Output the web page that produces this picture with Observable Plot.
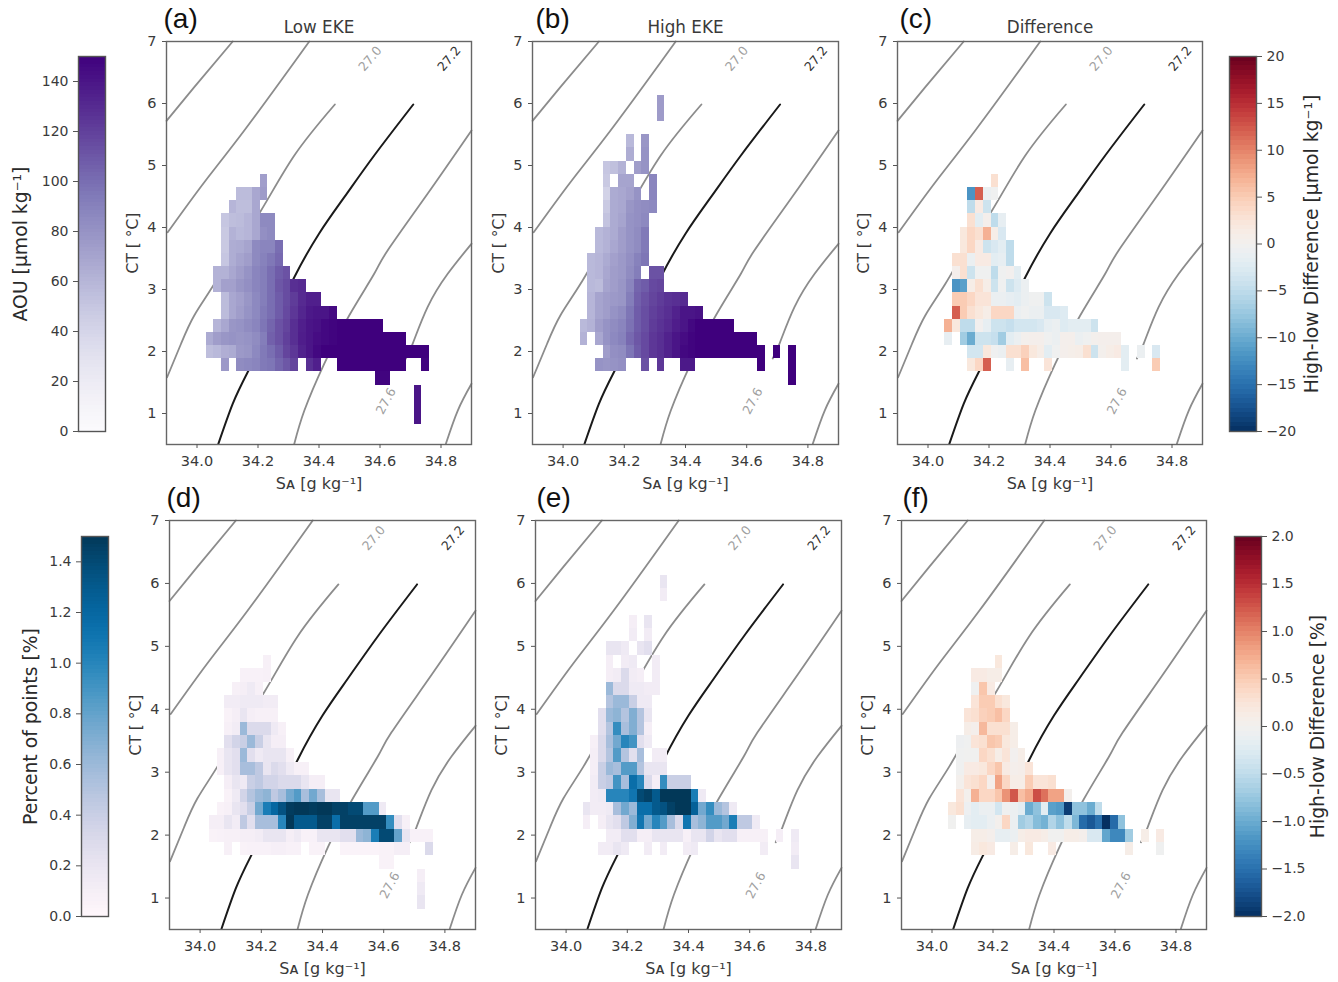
<!DOCTYPE html>
<html><head><meta charset="utf-8">
<script src="https://cdn.jsdelivr.net/npm/d3@7"></script>
<script src="https://cdn.jsdelivr.net/npm/@observablehq/plot@0.6"></script>
<style>
html,body{margin:0;padding:0;background:#fff}
#page{position:relative;width:1338px;height:982px;overflow:hidden;background:#fff}
#page svg{position:absolute;background:none;overflow:visible}
</style></head><body><div id="page"></div>
<script>
// Bin grid of the T-S diagram: [row, first column, values...]
const saStart = 34.03, saStep = 0.02525, ctStart = 1.67, ctStep = 0.2125;

const aouLow = [
 [14,7,73],
 [13,4,56,56,68,75],
 [12,3,60,55,55,68],
 [11,2,50,55,56,60,68,85,85],
 [10,2,48,62,58,60,68,82,85],
 [9,2,48,65,66,70,85,88,88,100],
 [8,2,50,65,70,74,85,90,95,102],
 [7,1,62,62,68,74,80,88,92,100,108,112],
 [6,1,62,72,72,78,82,88,92,100,110,115,128,130],
 [5,2,56,68,72,78,86,92,100,108,115,122,130,135,135],
 [4,2,56,68,74,80,86,94,100,108,116,124,132,138,140,140,145],
 [3,1,60,68,78,80,84,88,96,104,112,118,128,135,140,142,146,148,150,150,150,150,150,150],
 [2,0,66,74,78,80,78,80,84,92,106,112,120,128,136,140,144,146,148,150,150,150,150,150,150,150,150,150],
 [1,0,55,58,64,66,76,78,86,94,100,108,118,124,134,140,146,150,150,150,150,150,150,150,150,150,150,150,150,150,150],
 [0,2,76],[0,4,84,86,88,94,96,104,110,118],[0,13,128,135],[0,17,150,150,150,150,150,150,150,150,150],[0,28,148],
 [-1,22,148,148],
 [-2,27,140],[-3,27,140],[-4,27,140]
];
const aouHigh = [
 [20,11,75],[19,11,75],
 [17,7,58],[17,9,78],[16,7,65],[16,9,80],
 [15,4,50,54,62],[15,8,74,80],
 [14,4,48],[14,6,70,70],[14,10,88],
 [13,4,42,66,68,72,80],[13,10,88],
 [12,4,48,66,68,78,82,84,86],
 [11,4,52,66,70,80,82,86],
 [10,3,58,62,66,74,80,84,94],
 [9,3,58,62,68,74,80,84,94],
 [8,2,58,60,66,72,76,82,90,96],
 [7,2,58,60,68,74,76,84,92],[7,10,112,112],
 [6,2,58,56,70,74,78,88,104,108,116,118],
 [5,2,60,70,74,76,78,92,106,112,118,122,126,128,130],
 [4,2,60,70,74,80,84,96,108,114,120,124,128,134,140,140,142],
 [3,1,58,62,74,80,84,88,98,108,114,122,126,130,136,140,146,150,150,150,150,150],
 [2,1,62],[2,3,68,80,86,90,102,110,116,124,128,134,140,144,148,150,150,150,150,150,150,150,150],
 [1,4,74,82,84,96,108,116,124,128,134,140,146,148,150,150,150,150,150,150,150,150,150],[1,26,150],[1,28,150],
 [0,3,80,78,80,82],[0,9,112],[0,11,124],[0,14,138,138],[0,24,150],[0,28,150],
 [-1,28,150]
];
const aouDiff = [
 [14,7,3],
 [13,4,-12,12,-1,-0.5],
 [12,4,-5,1.5,-4],
 [11,4,3,-2,0.5,-5,-1.5],
 [10,3,2,4,3,7,1,-3],
 [9,3,2,4,1.5,-4,-3,-2,-5],
 [8,2,3,3,-1,1.5,1.5,-2,-1.5,-5],
 [7,2,0.5,3,-4,-0.5,-0.5,-5,-0.5,0,-2],
 [6,2,-12,-11,1,3,1,-4,-0.5,-4,-2.5,-1],
 [5,2,5,5,4,2.5,2.5,-1,-1,-1.5,-2,-1,-0.5,-0.5,-4],
 [4,2,12,5,3,2,1,4,4,4,-1,-0.5,-1,-1,-3,-3,-2.5],
 [3,1,7,2,-5,-5,0,-1.5,-4,-4,-4.5,-3.5,-3.5,-3.5,-3,-1.5,-1,-2.5,-2,-2,-2,-4],
 [2,1,-1.5],[2,3,-7,-10,-4,-4,-4.5,-7,-2,-1,0.3,0.5,0.5,-0.5,-1,0.5,0.5,-1,-0.5,0.3,0.5,0.5,0.5],
 [1,4,-3.5,-3.5,2,-0.5,-1,3,3,4.5,2,1,-2,-0.5,0.5,0.7,1,3,-4,0.3,1,1.5,-2],[1,26,-1],[1,28,-3],
 [0,4,2,4,12],[0,9,-1.5],[0,11,6],[0,14,2.5],[0,24,-2],[0,28,5]
];
const pctLow = [
 [14,7,0.08],
 [13,4,0.07,0.07,0.07,0.08],
 [12,3,0.08,0.1,0.15,0.08],
 [11,2,0.12,0.12,0.15,0.15,0.15,0.12,0.12],
 [10,2,0.06,0.1,0.2,0.1,0.08,0.08,0.08],
 [9,2,0.08,0.12,0.6,0.3,0.3,0.3,0.15,0.08],
 [8,2,0.25,0.35,0.4,0.6,0.4,0.2,0.1,0.1],
 [7,1,0.08,0.2,0.25,0.6,0.25,0.15,0.2,0.2,0.2,0.08],
 [6,1,0.08,0.2,0.25,0.55,0.55,0.45,0.2,0.3,0.25,0.15,0.08,0.08],
 [5,2,0.1,0.2,0.15,0.4,0.45,0.35,0.35,0.3,0.3,0.3,0.2,0.1,0.1],
 [4,2,0.06,0.15,0.35,0.5,0.6,0.65,0.45,0.55,0.75,0.85,0.55,0.75,0.55,0.2,0.2],
 [3,1,0.06,0.08,0.2,0.25,0.4,0.75,1.05,1.2,1.35,1.48,1.5,1.5,1.48,1.5,1.5,1.45,1.45,1.4,1.4,0.85,0.85,0.15],
 [2,0,0.1,0.1,0.2,0.12,0.45,0.25,0.55,0.55,0.55,1,1.5,1.3,1.3,1.3,1.45,1.45,1.15,1.45,1.45,1.45,1.45,1.45,1.45,0.95,0.25,0.08],
 [1,0,0.06,0.07,0.08,0.08,0.1,0.1,0.12,0.2,0.2,0.2,0.1,0.15,0.07,0.07,0.2,0.2,0.2,0.25,0.25,0.6,0.65,1.05,1.4,1.4,0.8,0.2,0.07,0.07,0.07],
 [0,2,0.08],[0,4,0.06,0.07,0.07,0.07,0.09,0.09,0.07,0.07],[0,13,0.06,0.06],[0,17,0.05,0.05,0.05,0.05,0.05,0.06,0.06,0.1,0.1],[0,28,0.3],
 [-1,22,0.06,0.06],
 [-2,27,0.1],[-3,27,0.15],[-4,27,0.2]
];
const pctHigh = [
 [20,11,0.2],[19,11,0.12],
 [17,7,0.1],[17,9,0.2],[16,7,0.12],[16,9,0.12],
 [15,4,0.2,0.2,0.15],[15,8,0.2,0.25],
 [14,4,0.1],[14,6,0.12,0.15],[14,10,0.12],
 [13,4,0.1,0.12,0.3,0.12,0.1],[13,10,0.12],
 [12,4,0.6,0.3,0.3,0.15,0.15,0.12,0.12],
 [11,4,0.5,0.6,0.6,0.4,0.15,0.15],
 [10,3,0.25,0.6,0.65,0.5,0.7,0.5,0.2],
 [9,3,0.25,0.5,0.95,0.55,0.7,0.5,0.1],
 [8,2,0.08,0.3,0.55,0.75,1,0.9,0.25,0.15],
 [7,2,0.1,0.3,0.5,0.85,0.5,0.25,0.55],[7,10,0.12,0.12],
 [6,2,0.1,0.4,0.6,0.55,0.85,0.85,0.5,0.2,0.2,0.2],
 [5,2,0.12,0.4,0.45,0.9,0.55,1.15,1,0.3,0.1,0.95,0.4,0.4,0.4],
 [4,2,0.12,0.15,1,1,1,1.1,1.4,1.45,1.3,1.5,1.5,1.5,1.5,1.05,0.15],
 [3,1,0.2,0.12,0.12,0.15,0.55,0.75,0.6,1.15,1.15,1.3,1.35,1.45,1.5,1.5,1.25,0.75,0.95,0.6,0.5,0.15],
 [2,1,0.1],[2,3,0.1,0.2,0.25,0.45,0.7,1.1,0.75,1,0.85,0.55,0.3,1.1,0.55,0.65,0.85,0.85,0.75,1.05,0.45,0.45,0.15],
 [1,4,0.12,0.12,0.25,0.25,0.1,0.1,0.2,0.2,0.2,0.2,0.08,0.2,0.2,0.35,0.2,0.25,0.25,0.08,0.08,0.08,0.08],[1,26,0.1],[1,28,0.15],
 [0,3,0.12,0.12,0.2,0.15],[0,9,0.12],[0,11,0.12],[0,14,0.12,0.15],[0,24,0.12],[0,28,0.12],
 [-1,28,0.2]
];
const pctDiff = [
 [14,7,0.2],
 [13,4,0.15,0.15,0.1,0.1],
 [12,4,-0.05,0.55,0.15],
 [11,4,0.25,0.5,0.5,0.3,0.2],
 [10,3,0.25,0.3,0.45,0.5,0.6,0.4],
 [9,3,0.1,0.05,0.65,0.3,0.3,0.3,0.1],
 [8,2,-0.08,-0.05,0.25,0.3,0.55,0.5,0.2,0.1],
 [7,2,-0.05,-0.03,-0.03,0.4,0.3,0.1,0.25,0,0.1],
 [6,2,-0.05,0.15,0.15,0.2,0.4,0.55,0.15,0.05,0.08,0.25],
 [5,2,0.03,0.25,0.3,0.4,0.05,0.8,0.4,0.1,0.1,0.5,0.25,0.25,0.3],
 [4,2,0.25,0.03,0.7,0.4,0.4,0.55,0.9,1.25,0.6,0.75,1.3,1.1,0.8,0.8,0.03],
 [3,1,0.2,0.3,-0.08,-0.2,-0.1,-0.1,-0.35,-0.05,-0.1,-0.2,-1,-0.8,-0.2,-1.1,-1.15,-1.9,-0.8,-0.8,-1,-0.5],
 [2,1,-0.03],[2,3,-0.15,-0.2,-0.2,-0.1,0.03,0.4,-0.1,-0.7,-0.6,-0.85,-0.95,-0.6,-0.8,-0.5,-0.9,-1.55,-1.7,-1.5,-2,-1.55,-0.8],
 [1,4,0.1,0.1,0.05,-0.15,-0.15,-0.1,0.1,0.15,0.15,0.1,-0.03,-0.03,0.1,0.1,0.05,-0.3,-0.3,-1.05,-1.3,-1.3,-0.7],[1,26,0.1],[1,28,0.15],
 [0,4,0.12,0.2,0.15],[0,9,0.1],[0,11,0.2],[0,14,0.15],[0,24,0.1],[0,28,-0.05]
];

// Isopycnals: [SA, CT]
const iso1 = [[33.9,5.72],[33.991,6.263],[34.117,7]];
const iso2 = [[33.904,3.924],[34.024,4.731],[34.155,5.565],[34.319,6.666],[34.368,7]];
const iso3 = [[33.902,1.585],[33.948,2.129],[33.991,2.581],[34.057,3.092],[34.128,3.677],[34.21,4.274],[34.319,5.161],[34.452,5.984]];
const iso4 = [[34.07,0.511],[34.117,1.156],[34.166,1.666],[34.243,2.42],[34.319,3.198],[34.40,3.90],[34.483,4.489],[34.581,5.161],[34.709,5.984]];
const iso5 = [[34.319,0.511],[34.352,1.048],[34.417,1.802],[34.499,2.581],[34.581,3.253],[34.625,3.629],[34.756,4.544],[34.9,5.565]];
const iso6 = [[34.685,1.887],[34.707,2.124],[34.756,2.715],[34.822,3.253],[34.9,3.737]];
const iso7 = [[34.816,0.511],[34.855,1.048],[34.9,1.479]];
const grayIso = [iso1,iso2,iso3,iso5,iso6,iso7];
const isoLabels = [
 {sa:34.568,ct:6.72,text:"27.0",fill:"#a0a0a0",rotate:-50},
 {sa:34.827,ct:6.72,text:"27.2",fill:"#333",rotate:-50},
 {sa:34.62,ct:1.2,text:"27.6",fill:"#a0a0a0",rotate:-62}
];

const saTicks = [34.0,34.2,34.4,34.6,34.8];
const ctTicks = [1,2,3,4,5,6,7];
const FONT = "DejaVu Sans, sans-serif";
const INK = "#3a3a3a";
const page = document.getElementById("page");

function toCells(rows){
  const out = [];
  for (const [k, col, ...vals] of rows) vals.forEach((v,i)=>out.push({
    sa1: saStart+(col+i)*saStep, sa2: saStart+(col+i+1)*saStep,
    ct1: ctStart+k*ctStep, ct2: ctStart+(k+1)*ctStep, v}));
  return out;
}
function place(svg,left,top){ svg.style.left=left+"px"; svg.style.top=top+"px"; page.appendChild(svg); }

function panel({L,R,T,B,rows,color,letter,title,letterDx}){
  const mL=60,mR=15,mT=40,mB=60;
  const svg = Plot.plot({
    width:R-L+mL+mR, height:B-T+mT+mB, marginLeft:mL, marginRight:mR, marginTop:mT, marginBottom:mB,
    style:{fontFamily:FONT,fontSize:"14px",color:INK,background:"none",overflow:"visible"},
    x:{domain:[33.9,34.9]}, y:{domain:[0.5,7]}, color,
    marks:[
      ...grayIso.map(l=>Plot.line(l,{x:d=>d[0],y:d=>d[1],stroke:"#8c8c8c",strokeWidth:1.8,curve:"natural"})),
      Plot.line(iso4,{x:d=>d[0],y:d=>d[1],stroke:"#1a1a1a",strokeWidth:2,curve:"natural"}),
      Plot.rect(toCells(rows),{x1:"sa1",x2:"sa2",y1:"ct1",y2:"ct2",fill:"v",shapeRendering:"crispEdges"}),
      Plot.text(isoLabels,{x:"sa",y:"ct",text:"text",fill:"fill",rotate:"rotate",fontSize:12.5}),
      Plot.frame({stroke:"#666",strokeWidth:1.4}),
      Plot.axisX({ticks:saTicks,tickFormat:".1f",tickSize:4,tickPadding:7,fontSize:14.5,stroke:"#555",fill:INK,label:null}),
      Plot.axisX({ticks:[],label:"Sᴀ [g kg⁻¹]",labelAnchor:"center",labelArrow:"none",labelOffset:44,fontSize:16,fill:INK}),
      Plot.axisY({ticks:ctTicks,tickFormat:"d",tickSize:4,tickPadding:6,fontSize:14.5,stroke:"#555",fill:INK,label:null}),
      Plot.axisY({ticks:[],label:"CT [ °C]",labelAnchor:"center",labelArrow:"none",labelOffset:40,fontSize:15.5,fill:INK}),
      ...(title?[Plot.text([title],{frameAnchor:"top",dy:-20,fontSize:16.8,fill:INK})]:[]),
      Plot.text([letter],{frameAnchor:"top-left",dx:letterDx,dy:-33,fontSize:28,fontFamily:"Liberation Sans, Arial, sans-serif",fill:"#111",textAnchor:"start"})
    ]
  });
  place(svg,L-mL,T-mT);
}

function colorbar({L,R,T,B,domain,ticks,fmt,color,label,anchor,labelOffset,ramp}){
  const mL=anchor==="left"?80:10, mR=anchor==="right"?90:10, mT=12, mB=12;
  const step=(domain[1]-domain[0])/ramp.length;
  const svg = Plot.plot({
    width:R-L+mL+mR, height:B-T+mT+mB, marginLeft:mL, marginRight:mR, marginTop:mT, marginBottom:mB,
    style:{fontFamily:FONT,fontSize:"14px",color:INK,background:"none",overflow:"visible"},
    x:{domain:[0,1],axis:null}, y:{domain}, color,
    marks:[
      Plot.rect(ramp,{x1:0,x2:1,y1:d=>d,y2:d=>d+step,fill:d=>d+step/2,shapeRendering:"crispEdges"}),
      Plot.frame({stroke:"#555",strokeWidth:1.4}),
      Plot.axisY({anchor,ticks,tickFormat:fmt,tickSize:5,tickPadding:5,fontSize:14,stroke:"#555",fill:INK,label:null}),
      Plot.axisY({anchor,ticks:[],label,labelAnchor:"center",labelArrow:"none",labelOffset,fontSize:18.8,fill:"#2a2a2a"})
    ]
  });
  place(svg,L-mL,T-mT);
}

const cAOU = {type:"linear",scheme:"Purples",domain:[0,150],clamp:true};
const cPct = {type:"linear",scheme:"PuBu",domain:[0,1.5],clamp:true};
const cDif = {type:"linear",scheme:"RdBu",reverse:true,domain:[-20,20],clamp:true};
const cDfp = {type:"linear",scheme:"RdBu",reverse:true,domain:[-2,2],clamp:true};

panel({L:166,R:471,T:41,B:444,rows:aouLow,color:cAOU,letter:"(a)",title:"Low EKE",letterDx:-3});
panel({L:532,R:838,T:41,B:444,rows:aouHigh,color:cAOU,letter:"(b)",title:"High EKE",letterDx:3});
panel({L:897,R:1202,T:41,B:444,rows:aouDiff,color:cDif,letter:"(c)",title:"Difference",letterDx:2});
panel({L:169,R:475,T:520,B:929,rows:pctLow,color:cPct,letter:"(d)",letterDx:-3});
panel({L:535,R:841,T:520,B:929,rows:pctHigh,color:cPct,letter:"(e)",letterDx:1});
panel({L:901,R:1206,T:520,B:929,rows:pctDiff,color:cDfp,letter:"(f)",letterDx:1});

colorbar({L:78,R:105,T:56,B:431,domain:[0,150],ticks:d3.range(0,141,20),fmt:"d",color:cAOU,
  label:"AOU [μmol kg⁻¹]",anchor:"left",labelOffset:65,ramp:d3.range(0,150,1.5)});
colorbar({L:81,R:108,T:536,B:916,domain:[0,1.5],ticks:[0,0.2,0.4,0.6,0.8,1,1.2,1.4],fmt:".1f",color:cPct,
  label:"Percent of points [%]",anchor:"left",labelOffset:58,ramp:d3.range(0,150,1.5).map(d=>d/100)});
colorbar({L:1229,R:1256,T:56,B:431,domain:[-20,20],ticks:d3.range(-20,21,5),fmt:"d",color:cDif,
  label:"High-low Difference [μmol kg⁻¹]",anchor:"right",labelOffset:61,ramp:d3.range(-20,20,0.5)});
colorbar({L:1234,R:1261,T:536,B:916,domain:[-2,2],ticks:[-2,-1.5,-1,-0.5,0,0.5,1,1.5,2],fmt:".1f",color:cDfp,
  label:"High-low Difference [%]",anchor:"right",labelOffset:62,ramp:d3.range(-20,20,0.5).map(d=>d/10)});
</script></body></html>
